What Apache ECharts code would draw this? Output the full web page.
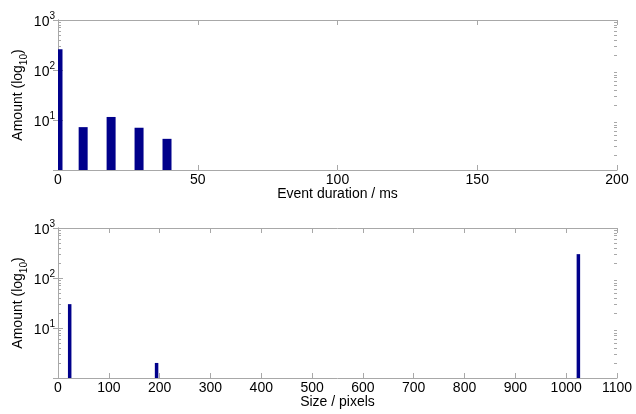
<!DOCTYPE html>
<html><head><meta charset="utf-8">
<script src="https://cdn.jsdelivr.net/npm/echarts@6/dist/echarts.min.js"></script>
<style>html,body{margin:0;padding:0;background:#fff}#c{width:636px;height:414px}</style>
</head><body><div id="c"></div>
<script>
// ---- data ----
const durationCenters = [0, 9, 19, 29, 39];      // ms
const durationCounts  = [260, 7.2, 11.5, 7, 4.2];
const sizeCenters = [23, 194, 1024];             // pixels
const sizeCounts  = [30, 2, 300];
const durationTicks = [0, 50, 100, 150, 200];
const sizeTicks = [0,100,200,300,400,500,600,700,800,900,1000,1100];
const decadeTicks = [1, 10, 100, 1000];
const minorTicks = [2,3,4,5,6,7,8,9,20,30,40,50,60,70,80,90,200,300,400,500,600,700,800,900];

const FONT = 'Liberation Sans, Arial, Helvetica, sans-serif';
const AX = '#a8a8a8';
const BAR = '#00008b';

const chart = echarts.init(document.getElementById('c'), null, {renderer: 'canvas'});

const grids = [
  {left: 58, right: 19, top: 20, height: 150, containLabel: false, outerBoundsMode: 'none'},
  {left: 58, right: 19, top: 228, height: 150, containLabel: false, outerBoundsMode: 'none'}
];

function xAxes(gi, ticks, name) {
  const min = ticks[0], max = ticks[ticks.length - 1], interval = ticks[1] - ticks[0];
  return [
    {type: 'value', gridIndex: gi, min, max, interval, position: 'bottom',
     name, nameLocation: 'middle', nameGap: 17, nameMoveOverlap: false,
     nameTextStyle: {fontFamily: FONT, fontSize: 14, color: '#000'},
     axisLine: {show: true, lineStyle: {color: AX, width: 1}},
     axisTick: {show: true, inside: true, length: 5, lineStyle: {color: AX}},
     axisLabel: {fontFamily: FONT, fontSize: 14, color: '#000', margin: 3, formatter: v => String(v)},
     splitLine: {show: false}},
    {type: 'value', gridIndex: gi, min, max, interval, position: 'top',
     axisLine: {show: true, lineStyle: {color: AX, width: 1}},
     axisTick: {show: true, inside: true, length: 5, lineStyle: {color: AX}},
     axisLabel: {show: false}, splitLine: {show: false}}
  ];
}

function yAxes(gi) {
  const base = {type: 'log', logBase: 10, gridIndex: gi, min: decadeTicks[0], max: decadeTicks[decadeTicks.length - 1], splitLine: {show: false}};
  return [
    Object.assign({}, base, {
      position: 'left',
      name: '{n|Amount (log}{sub|10}{n|)}', nameLocation: 'middle', nameGap: 29, nameRotate: 90, nameMoveOverlap: false,
      nameTextStyle: {fontFamily: FONT, color: '#000',
        rich: {n: {fontFamily: FONT, fontSize: 14, color: '#000', verticalAlign: 'bottom', padding: [0,0,4,0]},
               sub: {fontFamily: FONT, fontSize: 10, color: '#000', verticalAlign: 'bottom', padding: [0,0,0,0]}}},
      axisLine: {show: true, lineStyle: {color: AX, width: 1}},
      axisTick: {show: true, inside: true, length: 5, lineStyle: {color: AX}},
      axisLabel: {margin: 3, color: '#000',
        formatter: v => { const e = Math.round(Math.log10(v)); return e === 0 ? '' : '{b|10}{s|' + e + '}'; },
        rich: {b: {fontFamily: FONT, fontSize: 14, color: '#000', verticalAlign: 'bottom', padding: [0,0,0,0]},
               s: {fontFamily: FONT, fontSize: 10, color: '#000', verticalAlign: 'bottom', padding: [0,0,8,0]}}}
    }),
    Object.assign({}, base, {
      position: 'right',
      axisLine: {show: true, lineStyle: {color: AX, width: 1}},
      axisTick: {show: true, inside: true, length: 5, lineStyle: {color: AX}},
      axisLabel: {show: false}
    }),
    Object.assign({}, base, {
      position: 'left',
      axisLine: {show: false},
      axisTick: {show: true, inside: true, length: 3, lineStyle: {color: AX}, customValues: minorTicks},
      axisLabel: {show: false}
    }),
    Object.assign({}, base, {
      position: 'right',
      axisLine: {show: false},
      axisTick: {show: true, inside: true, length: 3, lineStyle: {color: AX}, customValues: minorTicks},
      axisLabel: {show: false}
    })
  ];
}

function barRenderer(widthPx) {
  return function (params, api) {
    const x = api.value(0), y = api.value(1);
    const top = api.coord([x, y]);
    const bottom = api.coord([x, decadeTicks[0]]);
    const rect = echarts.graphic.clipRectByRect(
      {x: top[0] - widthPx / 2, y: top[1], width: widthPx, height: bottom[1] - top[1]},
      {x: params.coordSys.x, y: params.coordSys.y, width: params.coordSys.width, height: params.coordSys.height}
    );
    return rect && {type: 'rect', shape: rect, style: {fill: BAR}};
  };
}

const option = {
  backgroundColor: '#fff',
  animation: false,
  grid: grids,
  xAxis: [].concat(xAxes(0, durationTicks, 'Event duration / ms'), xAxes(1, sizeTicks, 'Size / pixels')),
  yAxis: [].concat(yAxes(0), yAxes(1)),
  series: [
    {type: 'custom', xAxisIndex: 0, yAxisIndex: 0, renderItem: barRenderer(9),
     encode: {x: 0, y: 1},
     data: durationCenters.map((x, i) => [x, durationCounts[i]])},
    {type: 'custom', xAxisIndex: 2, yAxisIndex: 4, renderItem: barRenderer(3.5),
     encode: {x: 0, y: 1},
     data: sizeCenters.map((x, i) => [x, sizeCounts[i]])}
  ]
};
chart.setOption(option);
</script>
</body></html>
